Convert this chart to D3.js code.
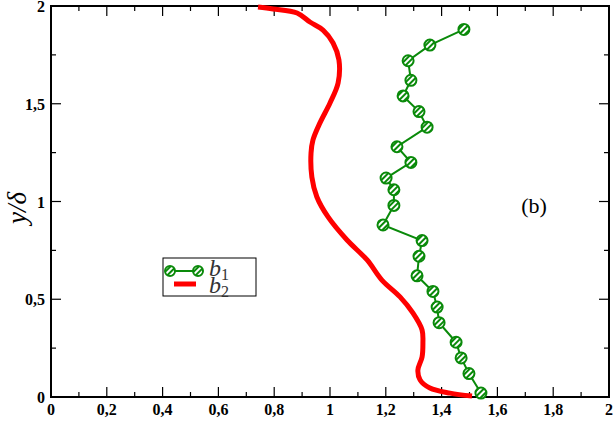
<!DOCTYPE html>
<html>
<head>
<meta charset="utf-8">
<script src="https://cdn.jsdelivr.net/npm/d3@7"></script>
<style>
  body { margin: 0; background: #fff; }
  svg { display: block; }
  .tick-label { font-family: "Liberation Serif", "Times New Roman", serif; font-weight: bold; font-size: 16px; }
</style>
</head>
<body>
<svg id="chart" width="615" height="423"></svg>
<script>
// b1 : symbols + line
const b1X = [1.48, 1.358, 1.28, 1.29, 1.262, 1.319, 1.348, 1.24, 1.29, 1.201, 1.229, 1.229,
  1.19, 1.33, 1.319, 1.312, 1.369, 1.384, 1.391, 1.452, 1.47, 1.498, 1.541];
const b1Y = [1.88, 1.80, 1.72, 1.62, 1.54, 1.46, 1.38, 1.28, 1.20, 1.12, 1.06, 0.98,
  0.88, 0.80, 0.72, 0.62, 0.54, 0.46, 0.38, 0.28, 0.20, 0.12, 0.02];

// b2 : thick red curve
const b2X = [0.742, 0.796, 0.882, 0.928, 0.975, 1.011, 1.032, 1.029, 1.0, 0.964, 0.939, 0.932,
  0.935, 0.953, 0.993, 1.061, 1.133, 1.186, 1.251, 1.297, 1.33, 1.333, 1.33, 1.315, 1.323,
  1.358, 1.43, 1.509];
const b2Y = [1.995, 1.985, 1.964, 1.918, 1.877, 1.811, 1.724, 1.606, 1.504, 1.402, 1.315, 1.248,
  1.125, 1.023, 0.921, 0.803, 0.701, 0.598, 0.512, 0.43, 0.343, 0.276, 0.205, 0.138, 0.087,
  0.046, 0.02, 0.005];

const xTicks = [0, 0.2, 0.4, 0.6, 0.8, 1, 1.2, 1.4, 1.6, 1.8, 2];
const xTickLabels = ["0", "0,2", "0,4", "0,6", "0,8", "1", "1,2", "1,4", "1,6", "1,8", "2"];
const yTicks = [0, 0.5, 1, 1.5, 2];
const yTickLabels = ["0", "0,5", "1", "1,5", "2"];

const green = "#0a8a0a", red = "#ff0000";
const svg = d3.select("#chart");
const pLeft = 51, pRight = 609, pTop = 6, pBottom = 397;

const x = d3.scaleLinear().domain([0, 2]).range([pLeft, pRight]);
const y = d3.scaleLinear().domain([0, 2]).range([pBottom, pTop]);

// hatch pattern for the symbols
const defs = svg.append("defs");
const pat = defs.append("pattern")
  .attr("id", "hatch").attr("patternUnits", "userSpaceOnUse")
  .attr("width", 4).attr("height", 4)
  .attr("patternTransform", "rotate(-45)");
pat.append("rect").attr("width", 4).attr("height", 4).attr("fill", "#fff");
pat.append("rect").attr("width", 4).attr("height", 2).attr("fill", green);

// ticks: inward, mirrored on all sides
const minorX = d3.range(0, 2.0001, 0.1);
const minorY = d3.range(0, 2.0001, 0.25);
const ticks = svg.append("g").attr("stroke", "#000").attr("stroke-width", 1.2);
minorX.forEach((v, i) => {
  const len = i % 2 === 0 ? 10 : 5;
  ticks.append("line").attr("x1", x(v)).attr("x2", x(v)).attr("y1", pBottom).attr("y2", pBottom - len);
  ticks.append("line").attr("x1", x(v)).attr("x2", x(v)).attr("y1", pTop).attr("y2", pTop + len);
});
minorY.forEach((v, i) => {
  const len = i % 2 === 0 ? 10 : 5;
  ticks.append("line").attr("y1", y(v)).attr("y2", y(v)).attr("x1", pLeft).attr("x2", pLeft + len);
  ticks.append("line").attr("y1", y(v)).attr("y2", y(v)).attr("x1", pRight).attr("x2", pRight - len);
});

// frame
svg.append("rect").attr("x", pLeft).attr("y", pTop)
  .attr("width", pRight - pLeft).attr("height", pBottom - pTop)
  .attr("fill", "none").attr("stroke", "#000").attr("stroke-width", 2);

// tick labels
svg.append("g").selectAll("text").data(xTicks).join("text")
  .attr("class", "tick-label").attr("x", d => x(d)).attr("y", pBottom + 18)
  .attr("text-anchor", "middle").text((d, i) => xTickLabels[i]);
svg.append("g").selectAll("text").data(yTicks).join("text")
  .attr("class", "tick-label").attr("x", pLeft - 6).attr("y", d => y(d) + 6)
  .attr("text-anchor", "end").text((d, i) => yTickLabels[i]);

// y label
svg.append("text")
  .attr("transform", "translate(26,208) rotate(-90)")
  .attr("text-anchor", "middle")
  .attr("font-family", "Liberation Serif, serif").attr("font-style", "italic").attr("font-size", 27)
  .text("y/δ");

// b2 curve
const b2 = b2X.map((v, i) => [v, b2Y[i]]);
svg.append("path").datum(b2)
  .attr("fill", "none").attr("stroke", red).attr("stroke-width", 5)
  .attr("d", d3.line().x(d => x(d[0])).y(d => y(d[1])).curve(d3.curveCatmullRom));

// b1 line + symbols
const b1 = b1X.map((v, i) => [v, b1Y[i]]);
svg.append("path").datum(b1)
  .attr("fill", "none").attr("stroke", green).attr("stroke-width", 2)
  .attr("d", d3.line().x(d => x(d[0])).y(d => y(d[1])));
svg.append("g").selectAll("circle").data(b1).join("circle")
  .attr("cx", d => x(d[0])).attr("cy", d => y(d[1])).attr("r", 5.5)
  .attr("fill", "url(#hatch)").attr("stroke", green).attr("stroke-width", 2);

// "(b)"
svg.append("text").attr("x", 534).attr("y", 213).attr("text-anchor", "middle")
  .attr("font-family", "Liberation Serif, serif").attr("font-size", 22).text("(b)");

// legend
const lg = svg.append("g");
lg.append("rect").attr("x", 163).attr("y", 258).attr("width", 93).attr("height", 38)
  .attr("fill", "#fff").attr("stroke", "#000").attr("stroke-width", 1);
lg.append("line").attr("x1", 170).attr("x2", 198).attr("y1", 271).attr("y2", 271)
  .attr("stroke", green).attr("stroke-width", 2);
[170, 198].forEach(cx => lg.append("circle").attr("cx", cx).attr("cy", 271).attr("r", 5)
  .attr("fill", "url(#hatch)").attr("stroke", green).attr("stroke-width", 2));
lg.append("line").attr("x1", 174).attr("x2", 196).attr("y1", 284).attr("y2", 284)
  .attr("stroke", red).attr("stroke-width", 5);
["1", "2"].forEach((s, i) => {
  const t = lg.append("text").attr("x", 209).attr("y", 276 + i * 17)
    .attr("font-family", "Liberation Serif, serif").attr("font-size", 24).attr("fill", "#333");
  t.append("tspan").attr("font-style", "italic").text("b");
  t.append("tspan").attr("font-size", 16).attr("dy", 4).text(s);
});
</script>
</body>
</html>
